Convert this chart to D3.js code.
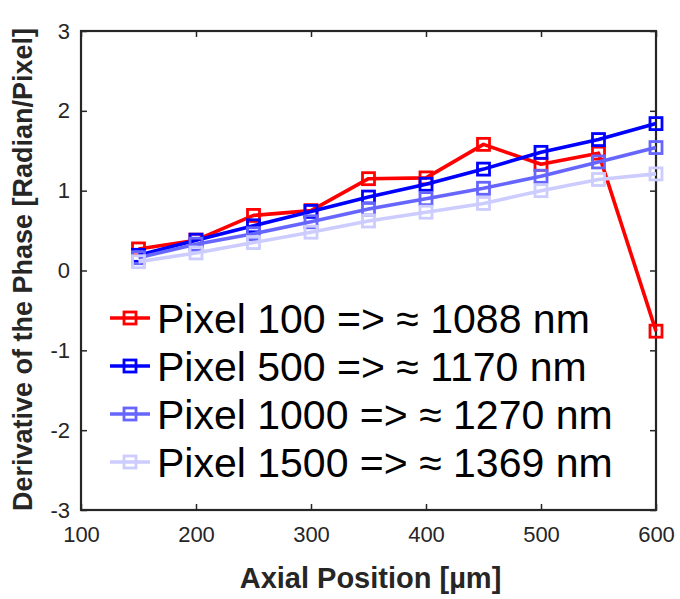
<!DOCTYPE html>
<html>
<head>
<meta charset="utf-8">
<script src="https://cdn.jsdelivr.net/npm/d3@7"></script>
<style>
  html, body { margin: 0; padding: 0; background: #fff; }
  svg { display: block; font-family: "Liberation Sans", Arial, Helvetica, sans-serif; }
</style>
</head>
<body>
<svg id="chart" width="680" height="599"></svg>
<script>
// Axial positions (µm) at which the phase derivative was evaluated
const positions = [150, 200, 250, 300, 350, 400, 450, 500, 550, 600];

// Derivative of the phase (radian / pixel) for each spectral pixel
const pixel100  = [0.27, 0.38, 0.69, 0.75, 1.15, 1.16, 1.58, 1.33, 1.47, -0.76];
const pixel500  = [0.19, 0.38, 0.56, 0.74, 0.92, 1.08, 1.27, 1.48, 1.64, 1.84];
const pixel1000 = [0.16, 0.33, 0.46, 0.61, 0.77, 0.90, 1.03, 1.18, 1.36, 1.54];
const pixel1500 = [0.11, 0.22, 0.35, 0.48, 0.62, 0.73, 0.84, 1.00, 1.14, 1.21];

const seriesNames = [
  "Pixel 100 => \u2248 1088 nm",
  "Pixel 500 => \u2248 1170 nm",
  "Pixel 1000 => \u2248 1270 nm",
  "Pixel 1500 => \u2248 1369 nm"
];
const seriesColors = ["#ff0000", "#0000ff", "#6666ff", "#ccccff"];

const xTicks = [100, 200, 300, 400, 500, 600];
const yTicks = [-3, -2, -1, 0, 1, 2, 3];
const xLabel = "Axial Position [\u00b5m]";
const yLabel = "Derivative of the Phase [Radian/Pixel]";

const series = [pixel100, pixel500, pixel1000, pixel1500].map((vals, i) => ({
  name: seriesNames[i],
  color: seriesColors[i],
  points: vals.map((v, j) => ({ x: positions[j], y: v }))
}));

const svg = d3.select("#chart");
const plot = { left: 81, right: 656, top: 31, bottom: 510 };
const axisColor = "#262626";

const x = d3.scaleLinear().domain([100, 600]).range([plot.left, plot.right]);
const y = d3.scaleLinear().domain([-3, 3]).range([plot.bottom, plot.top]);

// Integer tick labels with a plain hyphen for negatives
const intFmt = d => String(d);

// Axes: ticks point inward, labels on bottom and left only
const tickLen = 6;
const bottomAxis = d3.axisBottom(x).tickValues(xTicks).tickSize(-tickLen).tickPadding(16).tickFormat(intFmt);
const topAxis = d3.axisTop(x).tickValues(xTicks).tickSize(-tickLen).tickFormat("");
const leftAxis = d3.axisLeft(y).tickValues(yTicks).tickSize(-tickLen).tickPadding(11).tickFormat(intFmt);
const rightAxis = d3.axisRight(y).tickValues(yTicks).tickSize(-tickLen).tickFormat("");

function styleAxis(g) {
  g.select(".domain").remove();
  g.selectAll(".tick line").attr("stroke", axisColor).attr("stroke-width", 1.5);
  g.selectAll(".tick text").attr("fill", axisColor).style("font-size", "22px")
    .style("font-family", "'Liberation Sans', Arial, sans-serif");
}

svg.append("g").attr("transform", `translate(0,${plot.bottom})`).call(bottomAxis).call(styleAxis);
svg.append("g").attr("transform", `translate(0,${plot.top})`).call(topAxis).call(styleAxis);
svg.append("g").attr("transform", `translate(${plot.left},0)`).call(leftAxis).call(styleAxis);
svg.append("g").attr("transform", `translate(${plot.right},0)`).call(rightAxis).call(styleAxis);

// Box around the plotting area
svg.append("rect")
  .attr("x", plot.left).attr("y", plot.top)
  .attr("width", plot.right - plot.left).attr("height", plot.bottom - plot.top)
  .attr("fill", "none").attr("stroke", axisColor).attr("stroke-width", 2.2);

// Series lines with open square markers, later series drawn on top
const line = d3.line().x(d => x(d.x)).y(d => y(d.y));
const markerSize = 12;
const lineWidth = 3.6;
const markerStroke = 2.8;

const seriesG = svg.append("g");
series.forEach(s => {
  const g = seriesG.append("g");
  g.append("path").datum(s.points)
    .attr("d", line).attr("fill", "none")
    .attr("stroke", s.color).attr("stroke-width", lineWidth).attr("stroke-linejoin", "round");
  g.selectAll("rect").data(s.points).join("rect")
    .attr("x", d => x(d.x) - markerSize / 2)
    .attr("y", d => y(d.y) - markerSize / 2)
    .attr("width", markerSize).attr("height", markerSize)
    .attr("fill", "none").attr("stroke", s.color).attr("stroke-width", markerStroke);
});

// Legend
const legend = svg.append("g").attr("transform", "translate(110,318)");
series.forEach((s, i) => {
  const row = legend.append("g").attr("transform", `translate(0,${i * 48})`);
  row.append("line").attr("x1", 0).attr("x2", 40).attr("y1", 0).attr("y2", 0)
    .attr("stroke", s.color).attr("stroke-width", lineWidth);
  row.append("rect").attr("x", 20 - markerSize / 2).attr("y", -markerSize / 2)
    .attr("width", markerSize).attr("height", markerSize)
    .attr("fill", "none").attr("stroke", s.color).attr("stroke-width", markerStroke);
  row.append("text").attr("x", 47).attr("y", 0).attr("dy", "0.36em")
    .attr("fill", "#000").style("font-size", "41px").text(s.name);
});

// Axis titles
svg.append("text")
  .attr("x", (plot.left + plot.right) / 2 + 2).attr("y", 588)
  .attr("text-anchor", "middle").attr("fill", axisColor)
  .style("font-size", "29px").style("font-weight", "bold").text(xLabel);

svg.append("text")
  .attr("transform", `translate(32,${(plot.top + plot.bottom) / 2 - 1}) rotate(-90)`)
  .attr("text-anchor", "middle").attr("fill", axisColor)
  .style("font-size", "27px").style("font-weight", "bold").text(yLabel);
</script>
</body>
</html>
